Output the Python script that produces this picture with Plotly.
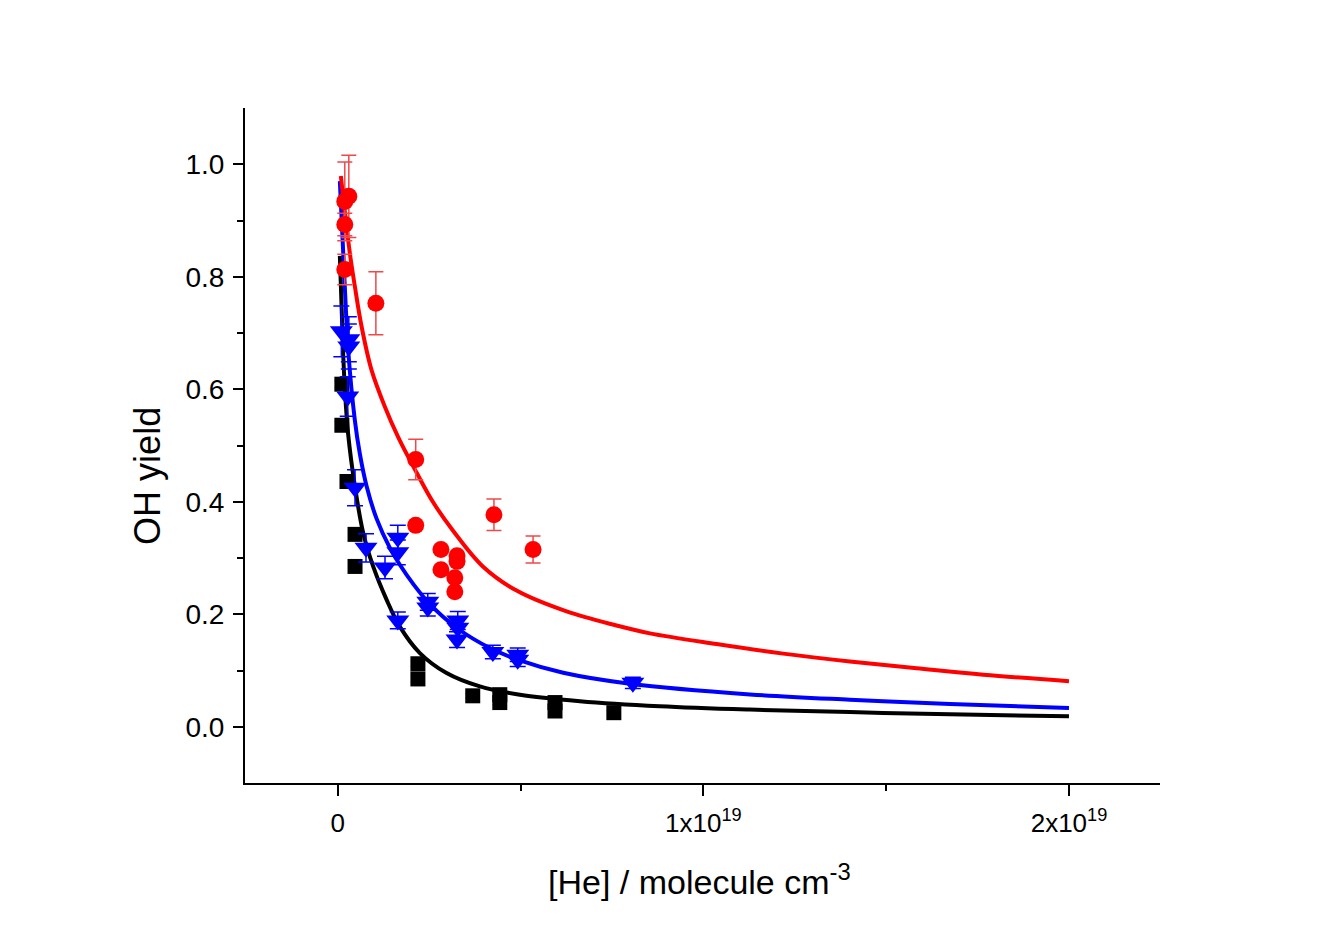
import plotly.graph_objects as go

# x values in units of 1e19 molecule cm^-3
black_x = [0.011, 0.011, 0.025, 0.047, 0.047, 0.219, 0.219, 0.369, 0.443, 0.443, 0.594, 0.594, 0.755]
black_y = [0.609, 0.536, 0.436, 0.342, 0.285, 0.112, 0.085, 0.055, 0.057, 0.043, 0.043, 0.028, 0.025]
black_err = [0.006, 0.006, 0.006, 0.006, 0.006, 0.005, 0.005, 0.004, 0.004, 0.004, 0.004, 0.004, 0.004]

blue_x = [0.0096, 0.030, 0.030, 0.027, 0.047, 0.077, 0.129, 0.164, 0.164, 0.164, 0.246, 0.246,
          0.328, 0.328, 0.326, 0.424, 0.492, 0.492, 0.807]
blue_y = [0.703, 0.689, 0.676, 0.587, 0.425, 0.318, 0.283, 0.336, 0.310, 0.189, 0.222, 0.212,
          0.189, 0.176, 0.155, 0.133, 0.128, 0.119, 0.078]
blue_err = [0.045, 0.04, 0.04, 0.035, 0.032, 0.025, 0.02, 0.022, 0.022, 0.015, 0.015, 0.015,
            0.016, 0.015, 0.014, 0.012, 0.012, 0.012, 0.01]

red_x = [0.019, 0.030, 0.019, 0.019, 0.104, 0.213, 0.213, 0.282, 0.282, 0.326, 0.326, 0.320, 0.320, 0.427, 0.534]
red_y = [0.934, 0.943, 0.893, 0.813, 0.753, 0.475, 0.358, 0.315, 0.279, 0.304, 0.294, 0.265, 0.240, 0.377, 0.315]
red_err = [0.070, 0.073, 0.020, 0.027, 0.056, 0.036, 0, 0, 0, 0, 0, 0, 0, 0.028, 0.024]

# fitted curves
red_fit_x = [0.0082, 0.0328, 0.0465, 0.0648, 0.0922, 0.1286, 0.165, 0.2153, 0.2607, 0.3146, 0.3967,
             0.4889, 0.6257, 0.7625, 0.8536, 1.0361, 1.2184, 1.4008, 1.5833, 1.7655, 2.0]
red_fit_y = [0.979, 0.842, 0.783, 0.712, 0.634, 0.569, 0.515, 0.452, 0.399, 0.349, 0.285,
             0.242, 0.205, 0.180, 0.166, 0.147, 0.130, 0.116, 0.104, 0.0925, 0.081]

blue_fit_x = [0.0055, 0.0192, 0.0282, 0.0465, 0.0602, 0.0785, 0.1059, 0.1423, 0.1696, 0.206, 0.2517,
              0.3248, 0.4159, 0.4979, 0.6164, 0.7989, 1.1272, 1.4008, 1.6744, 2.0]
blue_fit_y = [0.970, 0.780, 0.670, 0.545, 0.485, 0.428, 0.370, 0.318, 0.288, 0.254, 0.218,
              0.176, 0.140, 0.118, 0.096, 0.0765, 0.0575, 0.048, 0.0405, 0.0335]

black_fit_x = [0.0055, 0.0145, 0.0192, 0.0282, 0.0465, 0.0692, 0.0966, 0.1332, 0.1696, 0.2243,
               0.2974, 0.3885, 0.4979, 0.6621, 0.881, 1.1272, 1.4008, 1.6744, 2.0]
black_fit_y = [0.837, 0.665, 0.600, 0.520, 0.428, 0.345, 0.285, 0.226, 0.178, 0.131,
               0.0955, 0.0717, 0.0569, 0.0455, 0.0365, 0.0305, 0.026, 0.022, 0.0185]

x_tickvals = [0, 1, 2]
x_ticktext = ["0", "1x10<sup>19</sup>", "2x10<sup>19</sup>"]
y_tickvals = [0, 0.2, 0.4, 0.6, 0.8, 1.0]

FONT = "Liberation Sans, Arial, sans-serif"

fig = go.Figure()

fig.add_trace(go.Scatter(x=black_x, y=black_y, mode="markers",
                         marker=dict(symbol="square", size=15, color="black"),
                         error_y=dict(type="data", array=black_err, color="black", thickness=1.5, width=7),
                         showlegend=False))
fig.add_trace(go.Scatter(x=black_fit_x, y=black_fit_y, mode="lines",
                         line=dict(color="black", width=4, shape="spline", smoothing=1.0),
                         showlegend=False))
fig.add_trace(go.Scatter(x=blue_x, y=blue_y, mode="markers",
                         marker=dict(symbol="triangle-down", size=20, color="#0000ff"),
                         error_y=dict(type="data", array=blue_err, color="#0000ff", thickness=1.5, width=8),
                         showlegend=False))
fig.add_trace(go.Scatter(x=blue_fit_x, y=blue_fit_y, mode="lines",
                         line=dict(color="#0000ff", width=4, shape="spline", smoothing=1.0),
                         showlegend=False))
fig.add_trace(go.Scatter(x=red_fit_x, y=red_fit_y, mode="lines",
                         line=dict(color="#ff0000", width=4, shape="spline", smoothing=1.0),
                         showlegend=False))
fig.add_trace(go.Scatter(x=red_x, y=red_y, mode="markers",
                         marker=dict(symbol="circle", size=17, color="#ff0000"),
                         error_y=dict(type="data", array=red_err, color="#f04848", thickness=1.5, width=7.5),
                         showlegend=False))

fig.update_layout(
    width=1333, height=932,
    margin=dict(l=245, r=173, t=108, b=149),
    paper_bgcolor="white", plot_bgcolor="white",
    xaxis=dict(range=[-0.254, 2.249], showgrid=False, zeroline=False,
               showline=True, linecolor="black", linewidth=2,
               ticks="outside", ticklen=11, tickwidth=2, tickcolor="black",
               tickmode="array", tickvals=x_tickvals, ticktext=x_ticktext,
               tickfont=dict(family=FONT, size=26, color="black"),
               ticklabelstandoff=5,
               minor=dict(tickmode="array", tickvals=[0.5, 1.5], ticks="outside",
                          ticklen=6, tickwidth=2, tickcolor="black", showgrid=False)),
    yaxis=dict(range=[-0.1, 1.1], showgrid=False, zeroline=False,
               showline=True, linecolor="black", linewidth=2,
               ticks="outside", ticklen=10, tickwidth=2, tickcolor="black",
               tickmode="array", tickvals=y_tickvals, tickformat=".1f",
               tickfont=dict(family=FONT, size=28, color="black"), ticklabelstandoff=3,
               minor=dict(tickmode="array", tickvals=[0.1, 0.3, 0.5, 0.7, 0.9], ticks="outside",
                          ticklen=6, tickwidth=2, tickcolor="black", showgrid=False)),
    annotations=[
        dict(text="OH yield", xref="paper", yref="paper", x=-0.106, y=0.455,
             textangle=-90, showarrow=False, xanchor="center", yanchor="middle",
             font=dict(family=FONT, size=36, color="black")),
        dict(text="[He] / molecule cm<sup>-3</sup>", xref="paper", yref="paper", x=0.497, y=-0.1437,
             showarrow=False, xanchor="center", yanchor="middle",
             font=dict(family=FONT, size=34, color="black")),
    ],
)

fig.write_html("out.html")
